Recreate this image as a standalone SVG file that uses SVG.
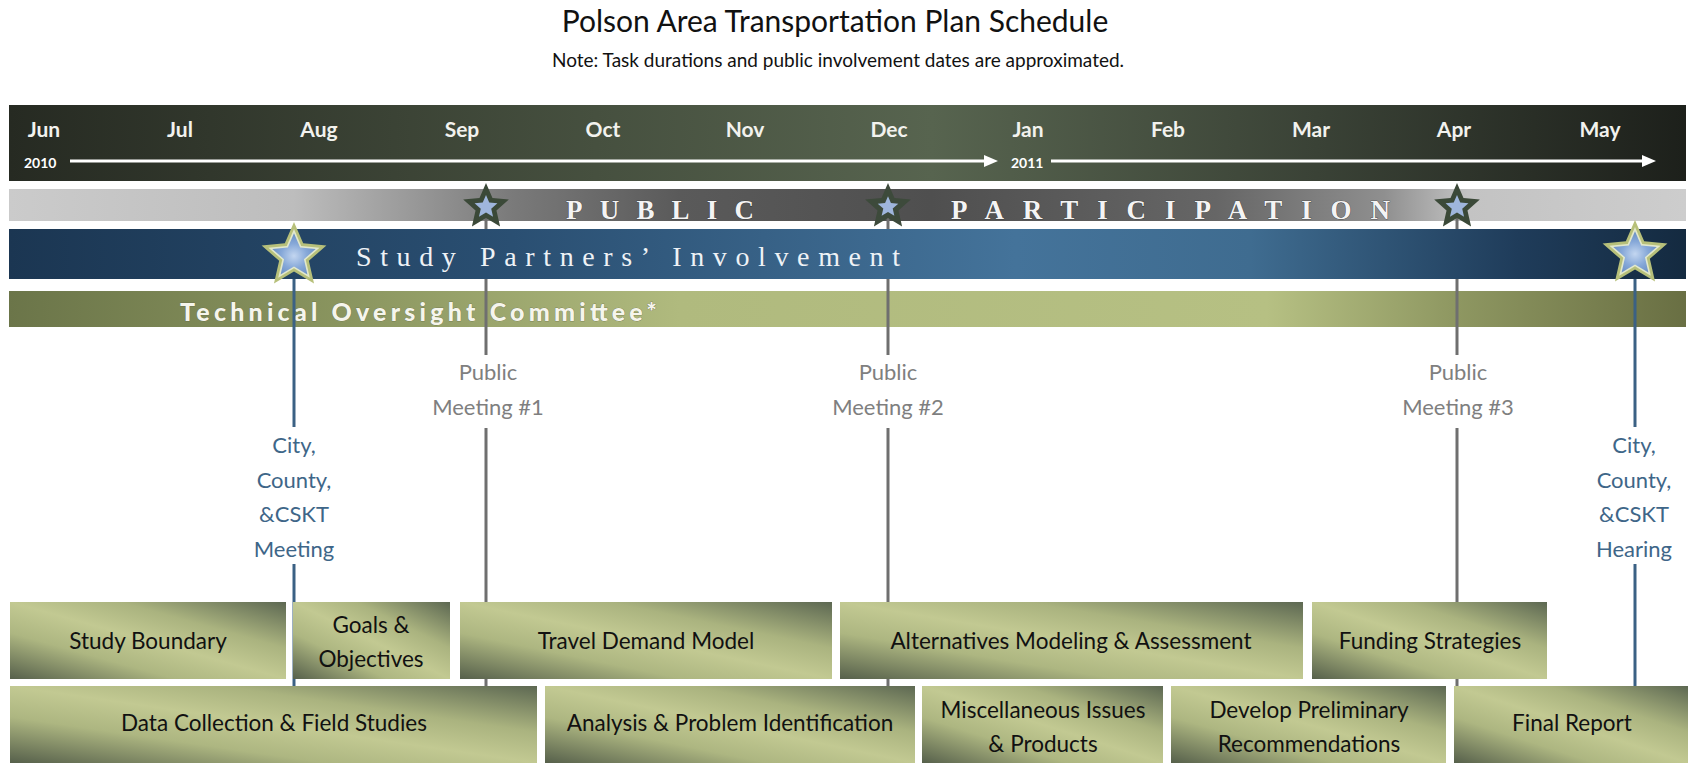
<svg xmlns="http://www.w3.org/2000/svg" width="1690" height="765" viewBox="0 0 1690 765">
<defs>
<style>
.month{font-family:Lato,"Open Sans",sans-serif;font-size:21px;font-weight:700;fill:#f2f2ee;text-anchor:middle}
.year{font-family:Lato,"Open Sans",sans-serif;font-size:14px;font-weight:700;fill:#ffffff}
.box{fill:url(#boxg)}
.bt{font-family:Lato,"Open Sans",sans-serif;font-size:22.5px;fill:#111;text-anchor:middle}
.pm{font-family:Lato,"Open Sans",sans-serif;font-size:22px;fill:#7f7f7f;text-anchor:middle}
.cc{font-family:Lato,"Open Sans",sans-serif;font-size:22px;fill:#3e6688;text-anchor:middle}
.gl{stroke:#6f6f6f;stroke-width:3;fill:none}
.bl{stroke:#3b6184;stroke-width:3;fill:none}
.pp{font-family:"Liberation Serif","DejaVu Serif",serif;font-size:27px;font-weight:700;fill:#f4f4f4;stroke:#2a2a2a;stroke-width:0.6;paint-order:stroke}
</style>
<linearGradient id="topg" x1="0" y1="0" x2="1" y2="0">
<stop offset="0" stop-color="#262a22"/><stop offset="0.35" stop-color="#46503f"/><stop offset="0.55" stop-color="#57644f"/><stop offset="0.78" stop-color="#3a4236"/><stop offset="1" stop-color="#1d201b"/>
</linearGradient>
<linearGradient id="grayg" x1="0" y1="0" x2="1" y2="0">
<stop offset="0" stop-color="#cbcbcb"/><stop offset="0.17" stop-color="#bdbdbd"/><stop offset="0.3" stop-color="#7a7a7a"/><stop offset="0.4" stop-color="#5a5a5a"/><stop offset="0.55" stop-color="#4f4f4f"/><stop offset="0.72" stop-color="#666666"/><stop offset="0.82" stop-color="#8f8f8f"/><stop offset="0.87" stop-color="#c3c3c3"/><stop offset="1" stop-color="#cdcdcd"/>
</linearGradient>
<linearGradient id="blueg" x1="0" y1="0" x2="1" y2="0">
<stop offset="0" stop-color="#1b3652"/><stop offset="0.3" stop-color="#2a4f72"/><stop offset="0.6" stop-color="#44739a"/><stop offset="0.74" stop-color="#3f6c90"/><stop offset="0.9" stop-color="#1f3c5a"/><stop offset="1" stop-color="#142a40"/>
</linearGradient>
<linearGradient id="greeng" x1="0" y1="0" x2="1" y2="0">
<stop offset="0" stop-color="#6b7549"/><stop offset="0.2" stop-color="#8a955f"/><stop offset="0.4" stop-color="#b0ba7e"/><stop offset="0.75" stop-color="#b6c083"/><stop offset="0.86" stop-color="#8f9862"/><stop offset="1" stop-color="#696f43"/>
</linearGradient>
<linearGradient id="boxg" x1="1" y1="0" x2="0" y2="1">
<stop offset="0" stop-color="#5d6852"/><stop offset="0.3" stop-color="#aab37f"/><stop offset="0.5" stop-color="#c2c992"/><stop offset="0.7" stop-color="#adb681"/><stop offset="1" stop-color="#56604b"/>
</linearGradient>
<radialGradient id="starblue" cx="0.5" cy="0.55" r="0.5">
<stop offset="0" stop-color="#c3d6f0"/><stop offset="0.6" stop-color="#86a8d8"/><stop offset="1" stop-color="#6f93c8"/>
</radialGradient>
<path id="star" d="M0,-24 L6.47,-8.9 L22.83,-7.42 L10.46,3.4 L14.11,19.42 L0,11 L-14.11,19.42 L-10.46,3.4 L-22.83,-7.42 L-6.47,-8.9 Z"/>
</defs>

<rect width="1690" height="765" fill="#ffffff"/>

<g id="title">
<text x="835" y="32" font-family="Lato,'Open Sans',sans-serif" font-size="30" fill="#111" text-anchor="middle">Polson Area Transportation Plan Schedule</text>
<text x="838" y="67" font-family="Lato,'Open Sans',sans-serif" font-size="19" fill="#111" text-anchor="middle">Note: Task durations and public involvement dates are approximated.</text>
</g>

<g id="timeline">
<rect x="9" y="105" width="1677" height="76" fill="url(#topg)"/>
<text class="month" x="44" y="137">Jun</text>
<text class="month" x="180" y="137">Jul</text>
<text class="month" x="319" y="137">Aug</text>
<text class="month" x="462" y="137">Sep</text>
<text class="month" x="603" y="137">Oct</text>
<text class="month" x="745" y="137">Nov</text>
<text class="month" x="889" y="137">Dec</text>
<text class="month" x="1028" y="137">Jan</text>
<text class="month" x="1168" y="137">Feb</text>
<text class="month" x="1311" y="137">Mar</text>
<text class="month" x="1454" y="137">Apr</text>
<text class="month" x="1600" y="137">May</text>
<text class="year" x="24" y="168">2010</text>
<text class="year" x="1011" y="168">2011</text>
<line x1="70" y1="161" x2="986" y2="161" stroke="#ffffff" stroke-width="3"/>
<polygon points="998,161 984,155 984,167" fill="#ffffff"/>
<line x1="1051" y1="161" x2="1644" y2="161" stroke="#ffffff" stroke-width="3"/>
<polygon points="1656,161 1642,155 1642,167" fill="#ffffff"/>
</g>

<g id="public-participation-bar">
<rect x="9" y="189" width="1677" height="32" fill="url(#grayg)"/>
<text class="pp" x="566" y="219" textLength="188" lengthAdjust="spacing">PUBLIC</text>
<text class="pp" x="951" y="219" textLength="439" lengthAdjust="spacing">PARTICIPATION</text>
</g>

<g id="technical-oversight-bar">
<rect x="9" y="291" width="1677" height="36" fill="url(#greeng)"/>
<text x="180" y="321" font-family="Lato,'Open Sans',sans-serif" font-size="25" font-weight="900" fill="#f5f5ec" stroke="#5a6040" stroke-width="0.5" paint-order="stroke" textLength="477" lengthAdjust="spacing">Technical Oversight Committee*</text>
</g>

<g id="connectors">
<line class="gl" x1="486" y1="207" x2="486" y2="355"/>
<line class="gl" x1="486" y1="428" x2="486" y2="688"/>
<line class="gl" x1="888" y1="207" x2="888" y2="355"/>
<line class="gl" x1="888" y1="428" x2="888" y2="688"/>
<line class="gl" x1="1457" y1="207" x2="1457" y2="355"/>
<line class="gl" x1="1457" y1="428" x2="1457" y2="688"/>
<line class="bl" x1="294" y1="256" x2="294" y2="427"/>
<line class="bl" x1="294" y1="564" x2="294" y2="688"/>
<line class="bl" x1="1635" y1="254" x2="1635" y2="427"/>
<line class="bl" x1="1635" y1="564" x2="1635" y2="688"/>
</g>

<g id="study-partners-bar">
<rect x="9" y="229" width="1677" height="50" fill="url(#blueg)"/>
<text x="356" y="266" font-family="'Liberation Serif','DejaVu Serif',serif" font-size="28" fill="#eef2f6" textLength="544" lengthAdjust="spacing">Study Partners’ Involvement</text>
</g>

<g id="stars">
<g transform="translate(486,207)"><use href="#star" fill="#3b4938"/><use href="#star" fill="#9fb6dc" transform="scale(0.5)"/></g>
<g transform="translate(888,207)"><use href="#star" fill="#3d4a3b"/><use href="#star" fill="#9fb6dc" transform="scale(0.45)"/></g>
<g transform="translate(1457,207)"><use href="#star" fill="#3b4938"/><use href="#star" fill="#9fb6dc" transform="scale(0.5)"/></g>
<g transform="translate(294,256)"><use href="#star" fill="#b7c07a" transform="scale(1.42)"/><use href="#star" fill="#e2e8cc" transform="scale(1.12)"/><use href="#star" fill="url(#starblue)" transform="scale(0.95)"/></g>
<g transform="translate(1635,254)"><use href="#star" fill="#b7c07a" transform="scale(1.42)"/><use href="#star" fill="#e2e8cc" transform="scale(1.12)"/><use href="#star" fill="url(#starblue)" transform="scale(0.95)"/></g>
</g>

<g id="label-city-meeting">
<text class="cc" x="294" y="453">City,</text>
<text class="cc" x="294" y="488">County,</text>
<text class="cc" x="294" y="522">&amp;CSKT</text>
<text class="cc" x="294" y="557">Meeting</text>
</g>
<g id="label-public-1">
<text class="pm" x="488" y="380">Public</text>
<text class="pm" x="488" y="415">Meeting #1</text>
</g>
<g id="label-public-2">
<text class="pm" x="888" y="380">Public</text>
<text class="pm" x="888" y="415">Meeting #2</text>
</g>
<g id="label-public-3">
<text class="pm" x="1458" y="380">Public</text>
<text class="pm" x="1458" y="415">Meeting #3</text>
</g>
<g id="label-city-hearing">
<text class="cc" x="1634" y="453">City,</text>
<text class="cc" x="1634" y="488">County,</text>
<text class="cc" x="1634" y="522">&amp;CSKT</text>
<text class="cc" x="1634" y="557">Hearing</text>
</g>

<g id="task-study-boundary"><rect class="box" x="10" y="602" width="276" height="77"/><text class="bt" x="148" y="649">Study Boundary</text></g>
<g id="task-goals"><rect class="box" x="293" y="602" width="157" height="77"/><text class="bt" x="371" y="633">Goals &amp;</text><text class="bt" x="371" y="667">Objectives</text></g>
<g id="task-travel-demand"><rect class="box" x="460" y="602" width="372" height="77"/><text class="bt" x="646" y="649">Travel Demand Model</text></g>
<g id="task-alternatives"><rect class="box" x="840" y="602" width="463" height="77"/><text class="bt" x="1071" y="649">Alternatives Modeling &amp; Assessment</text></g>
<g id="task-funding"><rect class="box" x="1312" y="602" width="235" height="77"/><text class="bt" x="1430" y="649">Funding Strategies</text></g>

<g id="task-data-collection"><rect class="box" x="10" y="686" width="527" height="77"/><text class="bt" x="274" y="731">Data Collection &amp; Field Studies</text></g>
<g id="task-analysis"><rect class="box" x="545" y="686" width="370" height="77"/><text class="bt" x="730" y="731">Analysis &amp; Problem Identification</text></g>
<g id="task-misc"><rect class="box" x="922" y="686" width="241" height="77"/><text class="bt" x="1043" y="718">Miscellaneous Issues</text><text class="bt" x="1043" y="752">&amp; Products</text></g>
<g id="task-develop"><rect class="box" x="1171" y="686" width="275" height="77"/><text class="bt" x="1309" y="718">Develop Preliminary</text><text class="bt" x="1309" y="752">Recommendations</text></g>
<g id="task-final"><rect class="box" x="1454" y="686" width="234" height="77"/><text class="bt" x="1572" y="731">Final Report</text></g>
</svg>
